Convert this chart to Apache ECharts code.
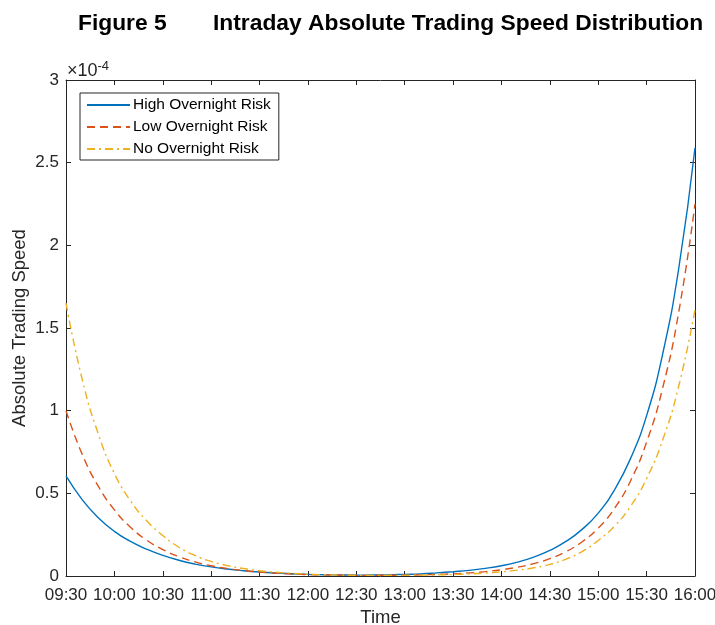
<!DOCTYPE html>
<html>
<head>
<meta charset="utf-8">
<script src="https://cdn.jsdelivr.net/npm/echarts@6/dist/echarts.min.js"></script>
<style>
  html, body { margin: 0; padding: 0; background: #fff; }
  #main { width: 715px; height: 625px; }
</style>
</head>
<body>
<div id="main"></div>
<script>
// sample times (every 10 minutes)
let times = ["09:30", "09:40", "09:50", "10:00", "10:10", "10:20", "10:30", "10:40", "10:50",
  "11:00", "11:10", "11:20", "11:30", "11:40", "11:50", "12:00", "12:10", "12:20", "12:30",
  "12:40", "12:50", "13:00", "13:10", "13:20", "13:30", "13:40", "13:50", "14:00", "14:10",
  "14:20", "14:30", "14:40", "14:50", "15:00", "15:10", "15:20", "15:30", "15:40", "15:50", "16:00"]

// tick labels on the time axis
let tickLabels = ["09:30", "10:00", "10:30", "11:00", "11:30", "12:00", "12:30",
  "13:00", "13:30", "14:00", "14:30", "15:00", "15:30", "16:00"]

// absolute trading speed, in units of 1e-4
let highRisk = [0.605, 0.462, 0.353, 0.27, 0.209, 0.162, 0.125, 0.095, 0.072,
  0.055, 0.042, 0.032, 0.024, 0.018, 0.0137, 0.010, 0.0079, 0.0063, 0.005,
  0.006, 0.007, 0.010, 0.013, 0.019, 0.026, 0.034, 0.046, 0.062, 0.084,
  0.114, 0.155, 0.209, 0.282, 0.38, 0.52, 0.71, 0.97, 1.345, 1.866, 2.59]
let lowRisk = [1.00, 0.737, 0.543, 0.40, 0.295, 0.217, 0.16, 0.117, 0.085,
  0.062, 0.045, 0.033, 0.024, 0.0173, 0.0125, 0.009, 0.0069, 0.0053, 0.004,
  0.004, 0.0045, 0.005, 0.0069, 0.0095, 0.013, 0.0186, 0.0266, 0.038, 0.0533,
  0.0748, 0.105, 0.147, 0.207, 0.29, 0.408, 0.575, 0.81, 1.139, 1.601, 2.25]
let noRisk = [1.65, 1.191, 0.86, 0.62, 0.455, 0.334, 0.245, 0.174, 0.124,
  0.088, 0.063, 0.045, 0.032, 0.0224, 0.0157, 0.011, 0.0079, 0.0056, 0.004,
  0.0035, 0.0035, 0.004, 0.0052, 0.0069, 0.009, 0.0127, 0.0178, 0.025, 0.0352,
  0.0496, 0.07, 0.102, 0.148, 0.215, 0.301, 0.421, 0.59, 0.824, 1.152, 1.61]

// minutes after 09:30
function toMinutes(t) {
  let p = t.split(":")
  return (+p[0]) * 60 + (+p[1]) - 570
}

function pairs(vals) {
  let out = []
  for (let i = 0; i < times.length; i++) {
    out.push([toMinutes(times[i]), vals[i]])
  }
  return out
}

let axisColor = "#262626"
let font = "Liberation Sans, Arial, Helvetica, sans-serif"

let myChart = echarts.init(document.getElementById("main"))
let option = {
  backgroundColor: "#fff",
  animation: false,
  textStyle: { fontFamily: font },
  title: [
    {
      text: "Figure 5",
      left: 73,
      top: 7,
      textStyle: { fontSize: 22.8, fontWeight: "bold", color: "#000", fontFamily: font }
    },
    {
      text: "Intraday Absolute Trading Speed Distribution",
      left: 208,
      top: 7,
      textStyle: { fontSize: 22.8, fontWeight: "bold", color: "#000", fontFamily: font }
    }
  ],
  graphic: [
    {
      type: "text",
      left: 67,
      top: 60,
      style: {
        text: "×10{s|-4}",
        fontSize: 18,
        fontFamily: font,
        fill: axisColor,
        rich: { s: { fontSize: 13, verticalAlign: "top", padding: [0, 0, 10, 0], fontFamily: font, fill: axisColor } }
      }
    }
  ],
  legend: {
    orient: "vertical",
    left: 80,
    top: 93,
    backgroundColor: "#fff",
    borderColor: axisColor,
    borderWidth: 1,
    borderRadius: 0,
    padding: [4, 8, 3, 6],
    itemGap: 6,
    itemWidth: 43,
    itemHeight: 15,
    itemStyle: { opacity: 0 },
    textStyle: { fontSize: 15.5, color: "#000", fontFamily: font, padding: [0, 0, 0, -2] },
    data: ["High Overnight Risk", "Low Overnight Risk", "No Overnight Risk"]
  },
  grid: {
    left: 66,
    right: 20,
    top: 80,
    bottom: 49,
    containLabel: false,
    outerBoundsMode: "none"
  },
  xAxis: [
    {
      type: "value",
      min: 0,
      max: 390,
      interval: 30,
      name: "Time",
      nameLocation: "middle",
      nameGap: 32,
      nameTextStyle: { fontSize: 18.5, color: axisColor, fontFamily: font },
      axisLine: { show: true, onZero: false, lineStyle: { color: axisColor, width: 1 } },
      axisTick: { show: true, inside: true, length: 5, lineStyle: { color: axisColor } },
      axisLabel: {
        fontSize: 17,
        color: axisColor,
        margin: 11,
        fontFamily: font,
        formatter: function (v) { return tickLabels[Math.round(v / 30)] }
      },
      splitLine: { show: false }
    },
    {
      type: "value",
      position: "top",
      min: 0,
      max: 390,
      interval: 30,
      axisLine: { show: true, onZero: false, lineStyle: { color: axisColor, width: 1 } },
      axisTick: { show: true, inside: true, length: 5, lineStyle: { color: axisColor } },
      axisLabel: { show: false },
      splitLine: { show: false }
    }
  ],
  yAxis: [
    {
      type: "value",
      min: 0,
      max: 3,
      interval: 0.5,
      name: "Absolute Trading Speed",
      nameLocation: "middle",
      nameGap: 37,
      nameMoveOverlap: false,
      nameTextStyle: { fontSize: 18.5, color: axisColor, fontFamily: font },
      axisLine: { show: true, onZero: false, lineStyle: { color: axisColor, width: 1 } },
      axisTick: { show: true, inside: true, length: 5, lineStyle: { color: axisColor } },
      axisLabel: { fontSize: 17, color: axisColor, margin: 7, fontFamily: font },
      splitLine: { show: false }
    },
    {
      type: "value",
      position: "right",
      min: 0,
      max: 3,
      interval: 0.5,
      axisLine: { show: true, onZero: false, lineStyle: { color: axisColor, width: 1 } },
      axisTick: { show: true, inside: true, length: 5, lineStyle: { color: axisColor } },
      axisLabel: { show: false },
      splitLine: { show: false }
    }
  ],
  series: [
    {
      name: "High Overnight Risk",
      type: "line",
      data: pairs(highRisk),
      smooth: 0.5,
      symbol: "none",
      lineStyle: { color: "#0072BD", width: 1.4, type: "solid" },
      itemStyle: { color: "#0072BD" }
    },
    {
      name: "Low Overnight Risk",
      type: "line",
      data: pairs(lowRisk),
      smooth: 0.5,
      symbol: "none",
      lineStyle: { color: "#D95319", width: 1.4, type: [8, 5] },
      itemStyle: { color: "#D95319" }
    },
    {
      name: "No Overnight Risk",
      type: "line",
      data: pairs(noRisk),
      smooth: 0.5,
      symbol: "none",
      lineStyle: { color: "#EDB120", width: 1.4, type: [8, 4, 2, 4] },
      itemStyle: { color: "#EDB120" }
    }
  ]
}
myChart.setOption(option)
</script>
</body>
</html>
